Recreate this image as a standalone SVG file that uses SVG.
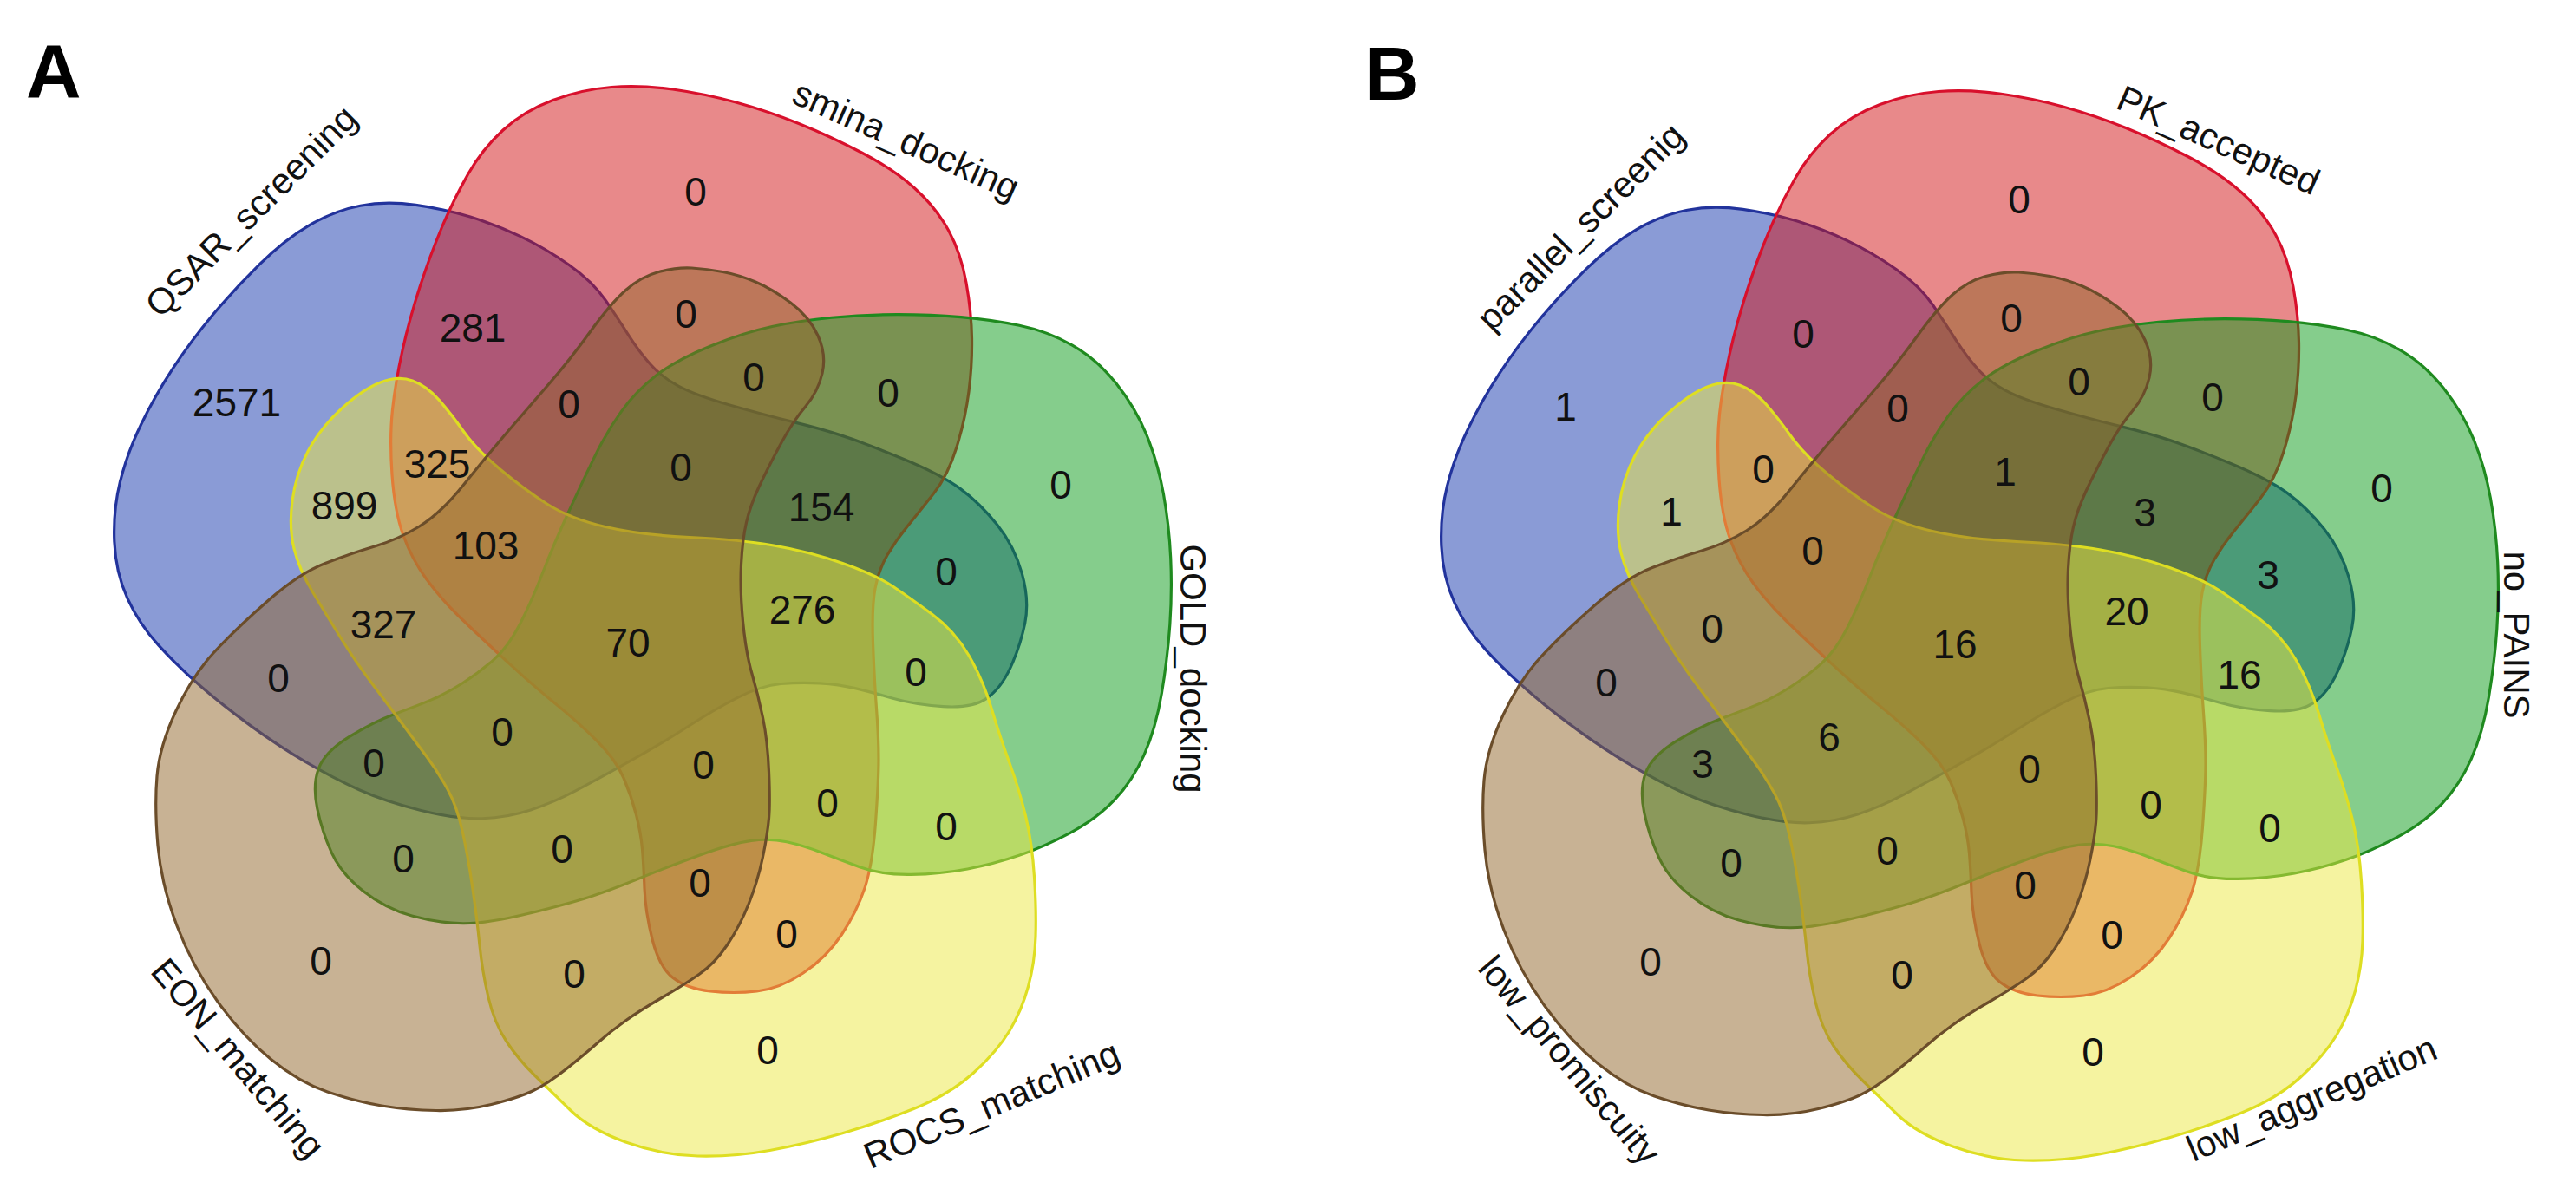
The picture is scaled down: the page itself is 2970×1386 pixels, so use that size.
<svg xmlns="http://www.w3.org/2000/svg" xmlns:xlink="http://www.w3.org/1999/xlink" width="2970" height="1386" viewBox="0 0 2970 1386">
<style>
.sh{fill-opacity:0.5;stroke-width:3.2;stroke-linejoin:round}
.blue{fill:#1537ad;stroke:#22339c}
.red{fill:#d11315;stroke:#d8102c}
.green{fill:#0b9b19;stroke:#1f8a1f}
.yellow{fill:#ebe741;stroke:#dede22}
.brown{fill:#916529;stroke:#6b4d2a}
.n{font-family:"Liberation Sans",Arial,sans-serif;font-size:46px;fill:#111;text-anchor:middle}
.lb{font-family:"Liberation Sans",Arial,sans-serif;font-size:42px;fill:#111;text-anchor:middle}
.pl{font-family:"Liberation Sans",Arial,sans-serif;font-size:88px;font-weight:bold;fill:#000}
</style>
<defs>
<path id="s" d="M-283,-170.5 Q-286,-213 -282.5,-245.5 Q-279,-278 -271,-314 Q-263,-350 -251,-387 Q-239,-424 -225.5,-456 Q-212,-488 -195.5,-517 Q-179,-546 -155,-568 Q-131,-590 -97.5,-602.5 Q-64,-615 -30,-617.5 Q4,-620 40.5,-615 Q77,-610 113.5,-600 Q150,-590 186,-575.5 Q222,-561 258.5,-542 Q295,-523 319.5,-501 Q344,-479 358.5,-452.5 Q373,-426 379,-392 Q385,-358 385.5,-328 Q386,-298 382,-266.5 Q378,-235 368,-202.5 Q358,-170 341.5,-149 Q325,-128 311.5,-111.5 Q298,-95 288,-78 Q278,-61 274,-39.5 Q270,-18 271.5,23.5 Q273,65 275.5,98.5 Q278,132 278,157 Q278,182 274.5,230.5 Q271,279 262,306 Q253,333 235.5,359.5 Q218,386 191,404 Q164,422 137.5,425 Q111,428 84,425 Q57,422 41,409.5 Q25,397 17,365 Q9,333 8,306 Q7,279 5.5,261 Q4,243 -1.5,221.5 Q-7,200 -16,179 Q-25,158 -46.5,136.5 Q-68,115 -94.5,93.5 Q-121,72 -153.5,42 Q-186,12 -206.5,-8 Q-227,-28 -243.5,-50.5 Q-260,-73 -270,-100.5 Q-280,-128 -283,-170.5 Z"/>
<path id="yel" d="M438.5,441 Q459,433 475.5,439 Q492,445 506,461 Q520,477 534.5,497.5 Q549,518 576.5,541 Q604,564 630.5,581 Q657,598 698,607.5 Q739,617 795,619.5 Q851,622 892,629 Q933,636 971.5,649.5 Q1010,663 1030,676.5 Q1050,690 1075,708.5 Q1100,727 1116.5,755 Q1133,783 1143,816.5 Q1153,850 1164,880 Q1175,910 1182.5,941 Q1190,972 1192.5,1011 Q1195,1050 1194,1080 Q1193,1110 1185.5,1137.5 Q1178,1165 1164,1188.5 Q1150,1212 1122.5,1237 Q1095,1262 1053.5,1278.5 Q1012,1295 970.5,1307 Q929,1319 887.5,1326.5 Q846,1334 804.5,1333 Q763,1332 721.5,1317 Q680,1302 657.5,1280 Q635,1258 616.5,1240 Q598,1222 584,1201 Q570,1180 563,1150 Q556,1120 553,1090 Q550,1060 545,1025 Q540,990 533.5,960 Q527,930 516,910 Q505,890 492,872.5 Q479,855 463,833.5 Q447,812 428.5,787.5 Q410,763 393.5,736.5 Q377,710 361,683.5 Q345,657 339,632.5 Q333,608 337,577.5 Q341,547 355,520.5 Q369,494 393.5,471.5 Q418,449 438.5,441 Z"/>
<path id="brn" d="M566.5,1273.5 Q536,1281 503,1280.5 Q470,1280 440,1275 Q410,1270 377.5,1259 Q345,1248 312.5,1221.5 Q280,1195 251,1155 Q222,1115 204,1067.5 Q186,1020 182,975 Q178,930 181,895 Q184,860 203,819.5 Q222,779 246.5,752.5 Q271,726 308,693.5 Q345,661 375,649.5 Q405,638 432,630 Q459,622 483.5,607 Q508,592 534.5,559 Q561,526 585.5,497.5 Q610,469 633.5,442 Q657,415 680.5,382.5 Q704,350 721.5,334.5 Q739,319 759.5,313.5 Q780,308 797.5,309 Q815,310 833.5,313.5 Q852,317 871,325 Q890,333 911.5,349 Q933,365 943,387 Q953,409 948,430.5 Q943,452 928.5,469 Q914,486 899.5,513 Q885,540 875,561.5 Q865,583 860.5,602.5 Q856,622 854.5,651 Q853,680 856.5,716.5 Q860,753 867,777 Q874,801 879.5,827.5 Q885,854 886.5,890 Q888,926 886.5,943.5 Q885,961 879.5,988 Q874,1015 863.5,1041.5 Q853,1068 838.5,1089.5 Q824,1111 806,1123.5 Q788,1136 763,1150.5 Q738,1165 720.5,1177.5 Q703,1190 689,1202.5 Q675,1215 653,1232.5 Q631,1250 614,1258 Q597,1266 566.5,1273.5 Z"/>
</defs>
<rect width="2970" height="1386" fill="#fff"/>
<g id="panelA">
<text class="pl" x="30" y="112">A</text>
<g id="A-QSAR_screening"><use href="#s" class="sh blue" transform="translate(735,718) rotate(-72)"/><text class="lb" transform="translate(289,243) rotate(-45)" y="15">QSAR_screening</text></g>
<g id="A-smina_docking"><use href="#s" class="sh red" transform="translate(735,718)"/><text class="lb" transform="translate(1045,161) rotate(24)" y="15">smina_docking</text></g>
<g id="A-GOLD_docking"><use href="#s" class="sh green" transform="translate(744,721) rotate(72)"/><text class="lb" transform="translate(1376,771) rotate(90)" y="15">GOLD_docking</text></g>
<g id="A-ROCS_matching"><use href="#yel" class="sh yellow"/><text class="lb" transform="translate(1143,1273) rotate(-23)" y="15">ROCS_matching</text></g>
<g id="A-EON_matching"><use href="#brn" class="sh brown"/><text class="lb" transform="translate(275,1220) rotate(50)" y="15">EON_matching</text></g>
<g id="A-counts" class="n">
<text x="802" y="237">0</text><text x="545" y="394">281</text><text x="273" y="480">2571</text><text x="791" y="378">0</text>
<text x="869" y="451">0</text><text x="1024" y="469">0</text><text x="656" y="482">0</text><text x="504" y="551">325</text>
<text x="785" y="555">0</text><text x="397" y="599">899</text><text x="947" y="601">154</text><text x="1223" y="575">0</text>
<text x="560" y="645">103</text><text x="1091" y="675">0</text><text x="925" y="719">276</text><text x="442" y="736">327</text>
<text x="724" y="757">70</text><text x="321" y="798">0</text><text x="1056" y="791">0</text><text x="579" y="860">0</text>
<text x="431" y="896">0</text><text x="811" y="898">0</text><text x="954" y="942">0</text><text x="1091" y="969">0</text>
<text x="465" y="1006">0</text><text x="648" y="995">0</text><text x="807" y="1034">0</text><text x="907" y="1093">0</text>
<text x="370" y="1124">0</text><text x="662" y="1139">0</text><text x="885" y="1227">0</text>
</g>
</g>
<g id="panelB">
<text class="pl" x="1573" y="115">B</text>
<g id="B-parallel_screenig"><use href="#s" class="sh blue" transform="translate(2265,723) rotate(-72)"/><text class="lb" transform="translate(1822,261) rotate(-45)" y="15">parallel_screenig</text></g>
<g id="B-PK_accepted"><use href="#s" class="sh red" transform="translate(2265,723)"/><text class="lb" transform="translate(2558,161) rotate(24)" y="15">PK_accepted</text></g>
<g id="B-no_PAINS"><use href="#s" class="sh green" transform="translate(2274,726) rotate(72)"/><text class="lb" transform="translate(2902,732) rotate(90)" y="15">no_PAINS</text></g>
<g id="B-low_aggregation"><use href="#yel" class="sh yellow" transform="translate(1530,5)"/><text class="lb" transform="translate(2665,1266) rotate(-23)" y="15">low_aggregation</text></g>
<g id="B-low_promiscuity"><use href="#brn" class="sh brown" transform="translate(1530,5)"/><text class="lb" transform="translate(1810,1222) rotate(50)" y="15">low_promiscuity</text></g>
<g id="B-counts" class="n">
<text x="2328" y="246">0</text><text x="2079" y="401">0</text><text x="1805" y="485">1</text><text x="2319" y="383">0</text>
<text x="2397" y="456">0</text><text x="2551" y="474">0</text><text x="2188" y="487">0</text><text x="2033" y="557">0</text>
<text x="2312" y="560">1</text><text x="1927" y="606">1</text><text x="2473" y="607">3</text><text x="2746" y="579">0</text>
<text x="2090" y="651">0</text><text x="2615" y="679">3</text><text x="2452" y="721">20</text><text x="1974" y="741">0</text>
<text x="2254" y="759">16</text><text x="1852" y="803">0</text><text x="2582" y="794">16</text><text x="2109" y="866">6</text>
<text x="1963" y="897">3</text><text x="2340" y="903">0</text><text x="2480" y="944">0</text><text x="2617" y="971">0</text>
<text x="1996" y="1011">0</text><text x="2176" y="997">0</text><text x="2335" y="1037">0</text><text x="2435" y="1094">0</text>
<text x="1903" y="1125">0</text><text x="2193" y="1140">0</text><text x="2413" y="1229">0</text>
</g>
</g>
</svg>
